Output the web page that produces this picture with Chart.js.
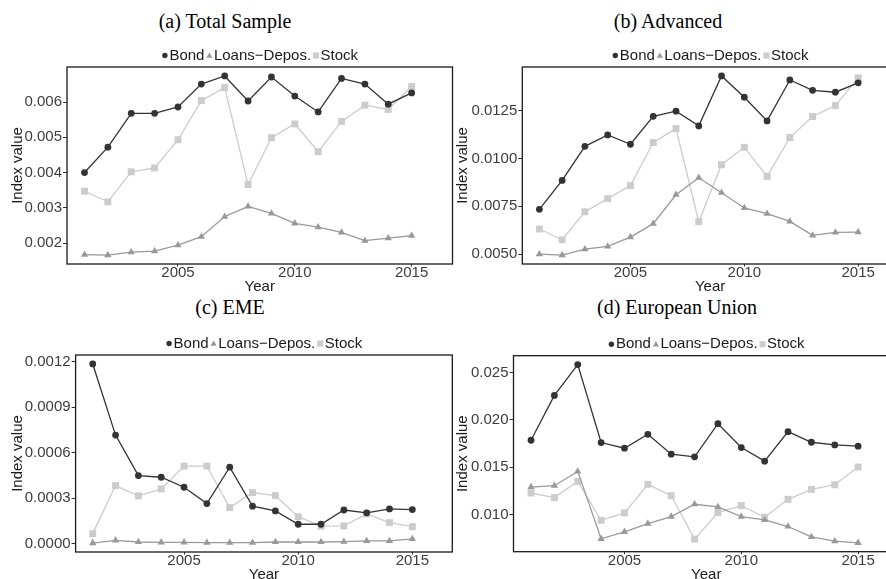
<!DOCTYPE html>
<html>
<head>
<meta charset="utf-8">
<script src="https://cdn.jsdelivr.net/npm/chart.js@4.4.1/dist/chart.umd.min.js"></script>
<style>
  html, body { margin: 0; padding: 0; background: #fff; }
  #fig { position: relative; width: 886px; height: 579px; overflow: hidden; background: #fff; }
  #fig canvas { position: absolute; }
  .cap { position: absolute; font-family: "Liberation Serif", "Times New Roman", serif; font-size: 20px;
         color: #000; white-space: nowrap; transform: translate(-50%, -50%); line-height: 1; }
</style>
</head>
<body>
<div id="fig">
  <div class="cap" style="left:225px; top:21px;">(a) Total Sample</div>
  <div class="cap" style="left:668px; top:21px;">(b) Advanced</div>
  <div class="cap" style="left:230px; top:307px;">(c) EME</div>
  <div class="cap" style="left:677px; top:307px;">(d) European Union</div>
  <canvas id="pA"></canvas>
  <canvas id="pB"></canvas>
  <canvas id="pC"></canvas>
  <canvas id="pD"></canvas>
</div>
<script>
// Years on the horizontal axis
const years = [2001, 2002, 2003, 2004, 2005, 2006, 2007, 2008, 2009, 2010, 2011, 2012, 2013, 2014, 2015];
const yearTicks = [2005, 2010, 2015];
const seriesNames = ['Bond', 'Loans\u2212Depos.', 'Stock'];

// (a) Total Sample
const bondA  = [0.00400, 0.00472, 0.00568, 0.00568, 0.00586, 0.00651, 0.00674, 0.00603, 0.00671, 0.00617, 0.00572, 0.00667, 0.00651, 0.00594, 0.00626];
const loansA = [0.00167, 0.00166, 0.00174, 0.00177, 0.00194, 0.00218, 0.00275, 0.00304, 0.00284, 0.00256, 0.00245, 0.00230, 0.00207, 0.00214, 0.00221];
const stockA = [0.00347, 0.00317, 0.00402, 0.00413, 0.00493, 0.00604, 0.00641, 0.00366, 0.00499, 0.00538, 0.00459, 0.00545, 0.00591, 0.00579, 0.00644];
const ticksA = [0.002, 0.003, 0.004, 0.005, 0.006];
const tickLabelsA = ['0.002', '0.003', '0.004', '0.005', '0.006'];

// (b) Advanced
const bondB  = [0.00734, 0.00885, 0.01063, 0.01123, 0.01074, 0.01220, 0.01247, 0.01170, 0.01431, 0.01320, 0.01196, 0.01410, 0.01356, 0.01346, 0.01395];
const loansB = [0.00500, 0.00495, 0.00526, 0.00540, 0.00589, 0.00659, 0.00810, 0.00899, 0.00821, 0.00741, 0.00711, 0.00671, 0.00598, 0.00613, 0.00615];
const stockB = [0.00631, 0.00575, 0.00721, 0.00790, 0.00858, 0.01083, 0.01156, 0.00669, 0.00967, 0.01058, 0.00906, 0.01109, 0.01219, 0.01276, 0.01421];
const ticksB = [0.0050, 0.0075, 0.0100, 0.0125];
const tickLabelsB = ['0.0050', '0.0075', '0.0100', '0.0125'];

// (c) EME
const bondC  = [0.001185, 0.000716, 0.000449, 0.000438, 0.000372, 0.000264, 0.000504, 0.000247, 0.000216, 0.000128, 0.000128, 0.000222, 0.000203, 0.000229, 0.000225];
const loansC = [0.000004, 0.000022, 0.000011, 0.000009, 0.000009, 0.000007, 0.000007, 0.000007, 0.000011, 0.000011, 0.000011, 0.000013, 0.000018, 0.000018, 0.000031];
const stockC = [0.000066, 0.000383, 0.000315, 0.000361, 0.000511, 0.000511, 0.000238, 0.000337, 0.000317, 0.000178, 0.000115, 0.000117, 0.000196, 0.000139, 0.000112];
const ticksC = [0.0000, 0.0003, 0.0006, 0.0009, 0.0012];
const tickLabelsC = ['0.0000', '0.0003', '0.0006', '0.0009', '0.0012'];

// (d) European Union
const bondD  = [0.01785, 0.02258, 0.02584, 0.01761, 0.01701, 0.01848, 0.01638, 0.01610, 0.01960, 0.01708, 0.01564, 0.01876, 0.01764, 0.01736, 0.01722];
const loansD = [0.01291, 0.01305, 0.01456, 0.00744, 0.00818, 0.00905, 0.00979, 0.01109, 0.01081, 0.00979, 0.00944, 0.00874, 0.00765, 0.00720, 0.00702];
const stockD = [0.01228, 0.01179, 0.01350, 0.00940, 0.01018, 0.01319, 0.01200, 0.00741, 0.01021, 0.01095, 0.00972, 0.01161, 0.01266, 0.01315, 0.01502];
const ticksD = [0.010, 0.015, 0.020, 0.025];
const tickLabelsD = ['0.010', '0.015', '0.020', '0.025'];

// ---- styling ----
const SANS = '"Liberation Sans", Arial, Helvetica, sans-serif';
const styles = [
  { color: '#333333', pointStyle: 'circle',   radius: 3.4, legendRadius: 2.7 },
  { color: '#999999', pointStyle: 'triangle', radius: 4.2, legendRadius: 3.6 },
  { color: '#cccccc', pointStyle: 'rect',     radius: 4.9, legendRadius: 4.3 }
];
const X_MIN = 2000.25, X_MAX = 2016.75;
const CANVAS_W = 460;

// Full box around the plotting region plus the series key above it
const framePlugin = {
  id: 'frame',
  afterDraw(chart) {
    const { ctx, chartArea: a } = chart;
    ctx.save();
    ctx.strokeStyle = '#1a1a1a';
    ctx.lineWidth = 1.3;
    ctx.strokeRect(a.left, a.top, a.right - a.left, a.bottom - a.top);

    // key: marker + name, centred over the plotting region
    ctx.font = '15px ' + SANS;
    ctx.textBaseline = 'middle';
    ctx.fillStyle = '#1a1a1a';
    const gapMarker = 8, gapAfter = 1.5;
    const items = chart.data.datasets.map((d, i) => ({ label: d.label, w: gapMarker + ctx.measureText(d.label).width, st: styles[i] }));
    const total = items.reduce((s, it) => s + it.w, 0) + gapAfter * (items.length - 1);
    let x = (a.left + a.right) / 2 - total / 2;
    const y = a.top - 11.5;
    items.forEach(it => {
      ctx.fillStyle = it.st.color;
      Chart.helpers.drawPoint(ctx, { pointStyle: it.st.pointStyle, radius: it.st.legendRadius, rotation: 0, borderWidth: 0 }, x + 3.5, y + (it.st.pointStyle === 'triangle' ? 0.5 : 0));
      ctx.fillStyle = '#1a1a1a';
      ctx.textAlign = 'left';
      ctx.fillText(it.label, x + gapMarker, y);
      x += it.w + gapAfter;
    });
    ctx.restore();
  }
};

function expand(arrs) {
  const all = [].concat(...arrs);
  const lo = Math.min(...all), hi = Math.max(...all);
  const pad = (hi - lo) * 0.05;
  return [lo - pad, hi + pad];
}

function makePanel(id, colX, rowY, area, xTitleY, series, tickVals, tickLabels) {
  const canvas = document.getElementById(id);
  const axisH = (xTitleY - area.b) + 9;
  const H = (area.b - rowY) + axisH;
  canvas.width = CANVAS_W; canvas.height = H;
  canvas.style.left = colX + 'px'; canvas.style.top = rowY + 'px';
  canvas.style.width = CANVAS_W + 'px'; canvas.style.height = H + 'px';
  const [yMin, yMax] = expand(series);

  const datasets = series.map((vals, i) => ({
    label: seriesNames[i],
    data: years.map((yr, k) => ({ x: yr, y: vals[k] })),
    borderColor: styles[i].color,
    backgroundColor: styles[i].color,
    borderWidth: 1.3,
    pointStyle: styles[i].pointStyle,
    pointRadius: styles[i].radius,
    pointBackgroundColor: styles[i].color,
    pointBorderWidth: 0,
    tension: 0,
    clip: false
  }));

  return new Chart(canvas, {
    type: 'line',
    data: { datasets },
    options: {
      responsive: false,
      animation: false,
      devicePixelRatio: 1,
      layout: { padding: { left: 0, top: area.t - rowY, right: colX + CANVAS_W - area.r, bottom: 0 } },
      plugins: { legend: { display: false }, tooltip: { enabled: false } },
      scales: {
        x: {
          type: 'linear', min: X_MIN, max: X_MAX,
          afterBuildTicks: s => { s.ticks = yearTicks.map(v => ({ value: v })); },
          afterFit: s => { s.height = axisH; },
          grid: { drawOnChartArea: false, drawTicks: true, tickLength: 2.5, color: '#333333', lineWidth: 1 },
          border: { display: false },
          ticks: { autoSkip: false, maxRotation: 0, padding: -2.5, color: '#3d3d3d',
                   font: { family: SANS, size: 15 }, callback: v => String(v) },
          title: { display: true, text: 'Year', color: '#1a1a1a', font: { family: SANS, size: 15 }, padding: { top: 0, bottom: 0 } }
        },
        y: {
          type: 'linear', min: yMin, max: yMax,
          afterBuildTicks: s => { s.ticks = tickVals.map(v => ({ value: v })); },
          afterFit: s => { s.width = area.l - colX; },
          grid: { drawOnChartArea: false, drawTicks: true, tickLength: 4, color: '#333333', lineWidth: 1 },
          border: { display: false },
          ticks: { autoSkip: false, padding: 1, color: '#3d3d3d',
                   font: { family: SANS, size: 15 }, callback: (v, i) => tickLabels[i] },
          title: { display: true, text: 'Index value', color: '#1a1a1a', font: { family: SANS, size: 15 }, padding: { top: 9, bottom: 0 } }
        }
      }
    },
    plugins: [framePlugin]
  });
}

makePanel('pA', 0,   44,  { l: 67,    t: 67,    r: 452.5, b: 264 },   287, [bondA, loansA, stockA], ticksA, tickLabelsA);
makePanel('pB', 445, 44,  { l: 522.3, t: 67,    r: 898,   b: 264 },   287, [bondB, loansB, stockB], ticksB, tickLabelsB);
makePanel('pC', 0,   332, { l: 75.6,  t: 355,   r: 452.3, b: 552 },   575, [bondC, loansC, stockC], ticksC, tickLabelsC);
makePanel('pD', 445, 332, { l: 513.5, t: 355.7, r: 899,   b: 551.7 }, 575, [bondD, loansD, stockD], ticksD, tickLabelsD);
</script>
</body>
</html>
